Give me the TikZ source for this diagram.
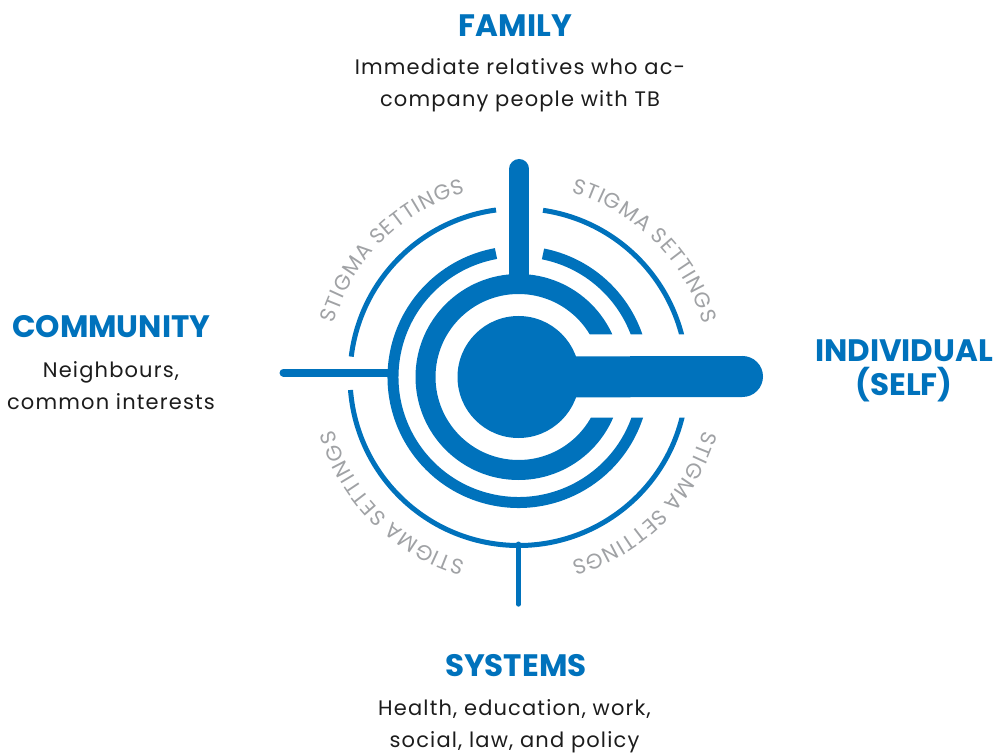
\documentclass[tikz,border=0pt]{standalone}
\usepackage{fontspec}
\setmainfont{Poppins}
\newfontfamily\bodyfont[LetterSpace=5.5]{Poppins}
\usetikzlibrary{decorations.text}
\definecolor{tbblue}{RGB}{0,114,188}
\definecolor{stiggray}{RGB}{160,162,165}
\definecolor{bodyblack}{RGB}{28,28,28}
\newcommand\stgk{\kern1.1pt}
\begin{document}
\begin{tikzpicture}[x=1pt,y=1pt,
  heading/.style={text=tbblue, font={\fontsize{31}{34.3}\selectfont\bfseries}, inner sep=0pt, align=center},
  body/.style={text=bodyblack, font={\bodyfont\fontsize{21}{32}\selectfont}, inner sep=0pt, align=center},
  thickring/.style={draw=tbblue, line width=20},
  midring/.style={draw=tbblue, line width=11},
  thinring/.style={draw=tbblue, line width=5},
  stigma/.style={decorate, decoration={text along path, text align=center, text color=stiggray,
    text={|\fontsize{21.3}{21.3}\selectfont|S{\stgk}T{\stgk}I{\stgk}G{\stgk}M{\stgk}A{\stgk} S{\stgk}E{\stgk}T{\stgk}T{\stgk}I{\stgk}N{\stgk}G{\stgk}S}}}
]
\useasboundingbox (0,0) rectangle (995,753);
\coordinate (C) at (518.5,376);

% rings, cut open on the right
\begin{scope}
  \clip (0,0) -- (995,0) -- (995,335.3) -- (518.5,335.3) -- (518.5,418.7) -- (995,418.7) -- (995,753) -- (0,753) -- cycle;
  \draw[thickring] (C) circle[radius=93];
  \draw[midring] (C) ++(78.74:125.5) arc[start angle=78.74, end angle=-259.67, radius=125.5];
  \draw[thinring] (C) ++(81.64:168.5) arc[start angle=81.64, end angle=-175.58, radius=168.5];
  \draw[thinring] (C) ++(173.05:168.5) arc[start angle=173.05, end angle=97.67, radius=168.5];
\end{scope}

% centre disk and bar to the individual
\fill[tbblue] (C) circle[radius=61];
\coordinate (barend) at (742.5,376.5);
\draw[tbblue, line width=41, line cap=round] (C) -- (barend);

% spokes
\coordinate (topend) at (519.3,584);
\coordinate (topbase) at (519.3,470);
\draw[tbblue, line width=20, line cap=round] (topend) -- (topbase);
\coordinate (leftend) at (283.5,380.3);
\coordinate (leftbase) at (392,380.3);
\draw[tbblue, line width=8, line cap=round] (leftend) -- (leftbase);
\coordinate (botbase) at (518.5,209);
\coordinate (botend) at (518.5,148.8);
\draw[tbblue, line width=5, line cap=round] (botbase) -- (botend);

% stigma settings
\path[stigma] (C) ++(179:192) arc[start angle=179, end angle=91, radius=192];
\path[stigma] (C) ++(89:192) arc[start angle=89, end angle=1, radius=192];
\path[stigma] (C) ++(-1:192) arc[start angle=-1, end angle=-89, radius=192];
\path[stigma] (C) ++(-91:192) arc[start angle=-91, end angle=-179, radius=192];

% labels
\node[heading, anchor=base] (family) at (515.3,716.3) {FAMILY};
\node[body, anchor=base] (familytext) at (520,646.3) {Immediate relatives who ac-\\company people with TB};
\node[heading, anchor=base] (community) at (111.2,415.7) {COMMUNITY};
\node[body, anchor=base] (communitytext) at (111,343) {Neighbours,\\common interests};
\node[heading, anchor=base] (individual) at (904,357) {INDIVIDUAL\\(SELF)};
\node[heading, anchor=base] (systems) at (515.8,76.3) {SYSTEMS};
\node[body, anchor=base] (systemstext) at (514.5,6) {Health, education, work,\\social, law, and policy};
\end{tikzpicture}
\end{document}
